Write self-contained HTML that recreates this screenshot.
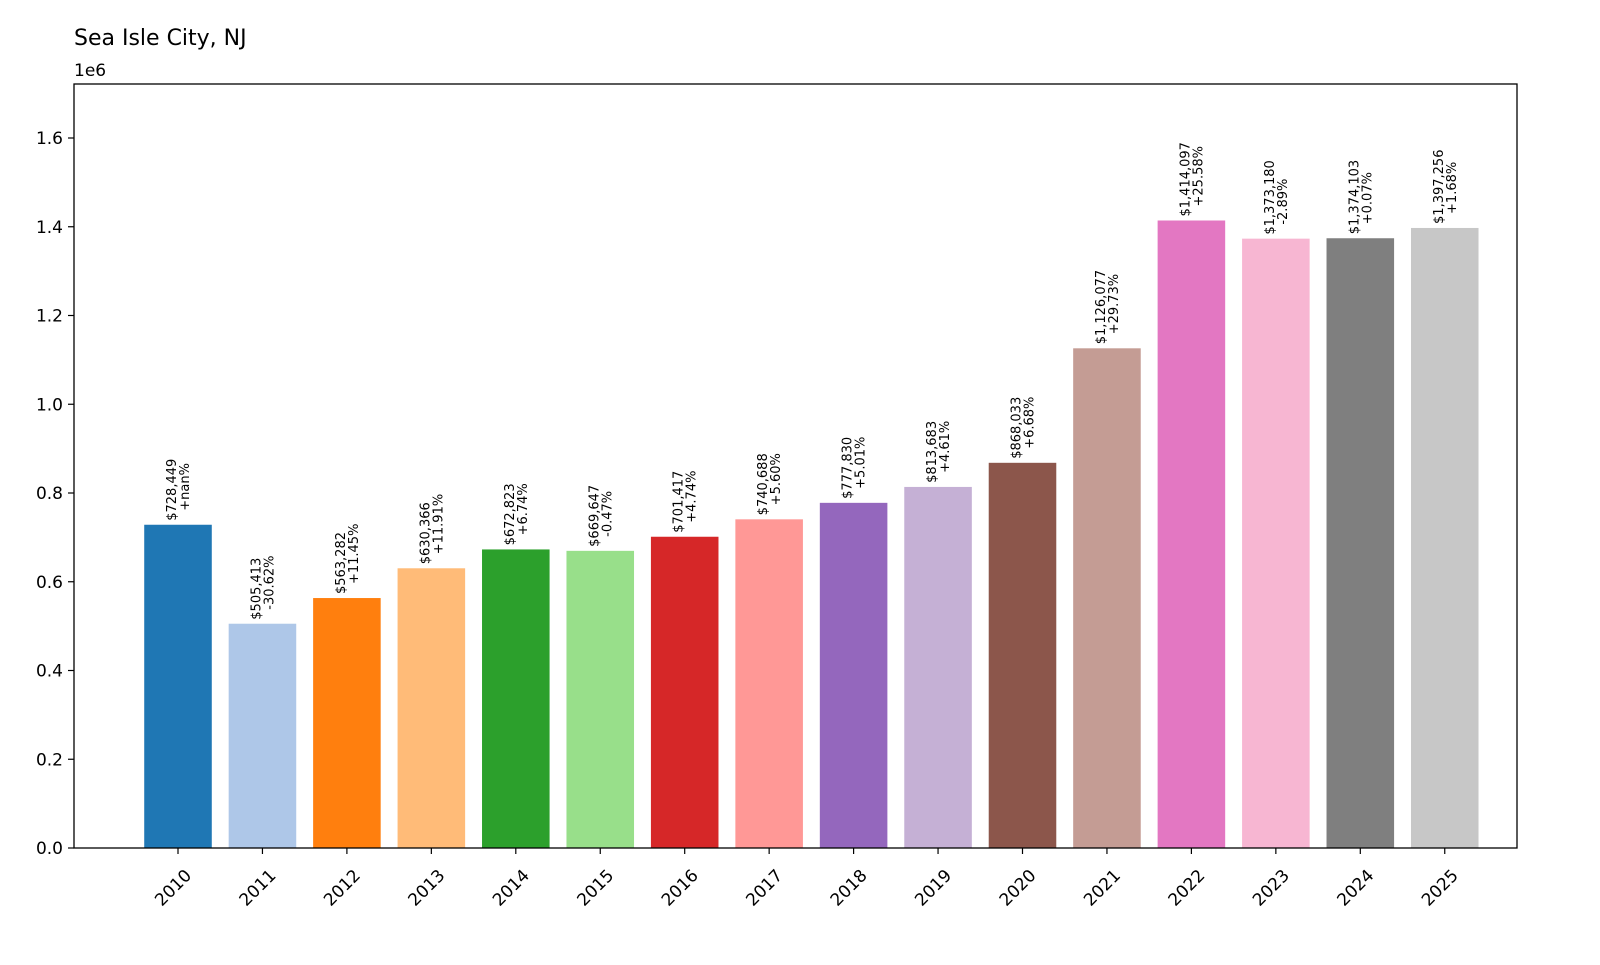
<!DOCTYPE html>
<html><head><meta charset="utf-8"><style>
body{margin:0;background:#fff;width:1600px;height:960px;overflow:hidden}
text{font-family:"DejaVu Sans","Liberation Sans",sans-serif;fill:#000}
</style></head><body>
<svg id="c" width="1600" height="960" xmlns="http://www.w3.org/2000/svg">
<text x="74" y="45" font-size="22">Sea Isle City, NJ</text>
<text x="74" y="76" font-size="17">1e6</text>
</svg>
<script>
const years=["2010","2011","2012","2013","2014","2015","2016","2017","2018","2019","2020","2021","2022","2023","2024","2025"];
const values=[728449,505413,563282,630366,672823,669647,701417,740688,777830,813683,868033,1126077,1414097,1373180,1374103,1397256];
const changes=["+nan%","-30.62%","+11.45%","+11.91%","+6.74%","-0.47%","+4.74%","+5.60%","+5.01%","+4.61%","+6.68%","+29.73%","+25.58%","-2.89%","+0.07%","+1.68%"];
const colors=["#1f77b4","#aec7e8","#ff7f0e","#ffbb78","#2ca02c","#98df8a","#d62728","#ff9896","#9467bd","#c5b0d5","#8c564b","#c49c94","#e377c2","#f7b6d2","#7f7f7f","#c7c7c7"];
const yTicks=[0,0.2,0.4,0.6,0.8,1.0,1.2,1.4,1.6];
const svg=document.getElementById('c');const NS="http://www.w3.org/2000/svg";
const L=74,R=1517,T=84,B=848,X0=178,DX=84.45;
const ymax=(B-T)/((B-138)/1.6e6);
const y=v=>B-v/ymax*(B-T);
const x=i=>X0+i*DX;
function mk(t,a,txt){const e=document.createElementNS(NS,t);for(const k in a)e.setAttribute(k,a[k]);if(txt!==undefined)e.textContent=txt;svg.appendChild(e);return e;}
values.forEach((v,i)=>{
 const w=DX*0.8;
 const r=mk('rect',{x:x(i)-w/2,y:y(v),width:w,height:B-y(v),fill:colors[i]});
 
 
 const by=y(v)-4;
 const t=mk('text',{transform:`translate(${x(i)},${by}) rotate(-90)`,'font-size':13});
 
 
 const s1=document.createElementNS(NS,'tspan');s1.setAttribute('x',0);s1.setAttribute('y',-2);s1.textContent='$'+v.toLocaleString('en-US');t.appendChild(s1);
 const s2=document.createElementNS(NS,'tspan');s2.setAttribute('x',10);s2.setAttribute('y',11);s2.textContent=changes[i];t.appendChild(s2);
 const tk=mk('line',{x1:x(i),x2:x(i),y1:B,y2:B+6,stroke:'#000','stroke-width':1.2});
 
 
 const lx=x(i)+6,ly=B+20;
 const lb=mk('text',{transform:`translate(${lx},${ly}) rotate(-45)`,'font-size':17,'text-anchor':'end',dy:'0.7em'},years[i]);
 
 
});
yTicks.forEach(v=>{
 const yy=y(v*1e6);
 const tk=mk('line',{x1:L-6,x2:L,y1:yy,y2:yy,stroke:'#000','stroke-width':1.2});
 
 
 const lb=mk('text',{x:L-11,y:yy+6,'font-size':17,'text-anchor':'end'},v.toFixed(1));
 
 
});
const fr=mk('rect',{x:L,y:T,width:R-L,height:B-T,fill:'none',stroke:'#000','stroke-width':1.3});


</script>
</body></html>
